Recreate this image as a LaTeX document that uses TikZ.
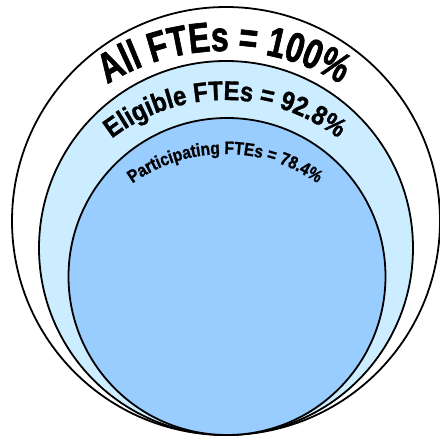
\documentclass[tikz,border=0pt]{standalone}
\usepackage{fontspec}
\usetikzlibrary{decorations.text, math}
\newfontfamily\allfont{Liberation Sans}[FakeStretch=0.76,FakeBold=1.5]
\newfontfamily\eligfont{Liberation Sans}[FakeStretch=0.88,FakeBold=1.2]
\newfontfamily\partfont{Liberation Sans}[FakeStretch=0.86,FakeBold=1]
\definecolor{qpale}{RGB}{204,236,255}
\definecolor{qlight}{RGB}{153,204,255}

\begin{document}
\begin{tikzpicture}[x=1pt,y=1pt,
  ring/.style={draw=black, line width=1.8pt},
  arch/.style={decorate, decoration={text along path, text align=center, text={#1}}}]

\tikzmath{
\Ra = 214; \Rb = 187; \Rc = 158.5; %circle radii
\Ta = 220; \Tb = 185; \Tc = 160; %baseline radii
}

\useasboundingbox (0,0) rectangle (440,437);

\coordinate (all) at (226,216);
\coordinate (elig) at (226,189);
\coordinate (part) at (227,160.5);
\coordinate (allT) at (224,166);
\coordinate (eligT) at (225,152);
\coordinate (partT) at (225,123);

%circles:
\draw[ring, fill=white] (all) circle[radius=\Ra pt];
\draw[ring, fill=qpale] (elig) circle[radius=\Rb pt];
\draw[ring, fill=qlight] (part) circle[radius=\Rc pt];

%labels:
\path[arch={|\allfont\bfseries\fontsize{42}{42}\selectfont|All FTEs = 100{\%}}]
  ([shift={(allT)}]135:\Ta pt) arc[start angle=135, end angle=45, radius=\Ta pt];
\path[arch={|\eligfont\bfseries\fontsize{27}{27}\selectfont|Eligible FTEs = 92.8{\%}}]
  ([shift={(eligT)}]140:\Tb pt) arc[start angle=140, end angle=40, radius=\Tb pt];
\path[arch={|\partfont\bfseries\fontsize{18}{18}\selectfont|Participating FTEs = 78.4{\%}}]
  ([shift={(partT)}]140:\Tc pt) arc[start angle=140, end angle=40, radius=\Tc pt];

\end{tikzpicture}
\end{document}
